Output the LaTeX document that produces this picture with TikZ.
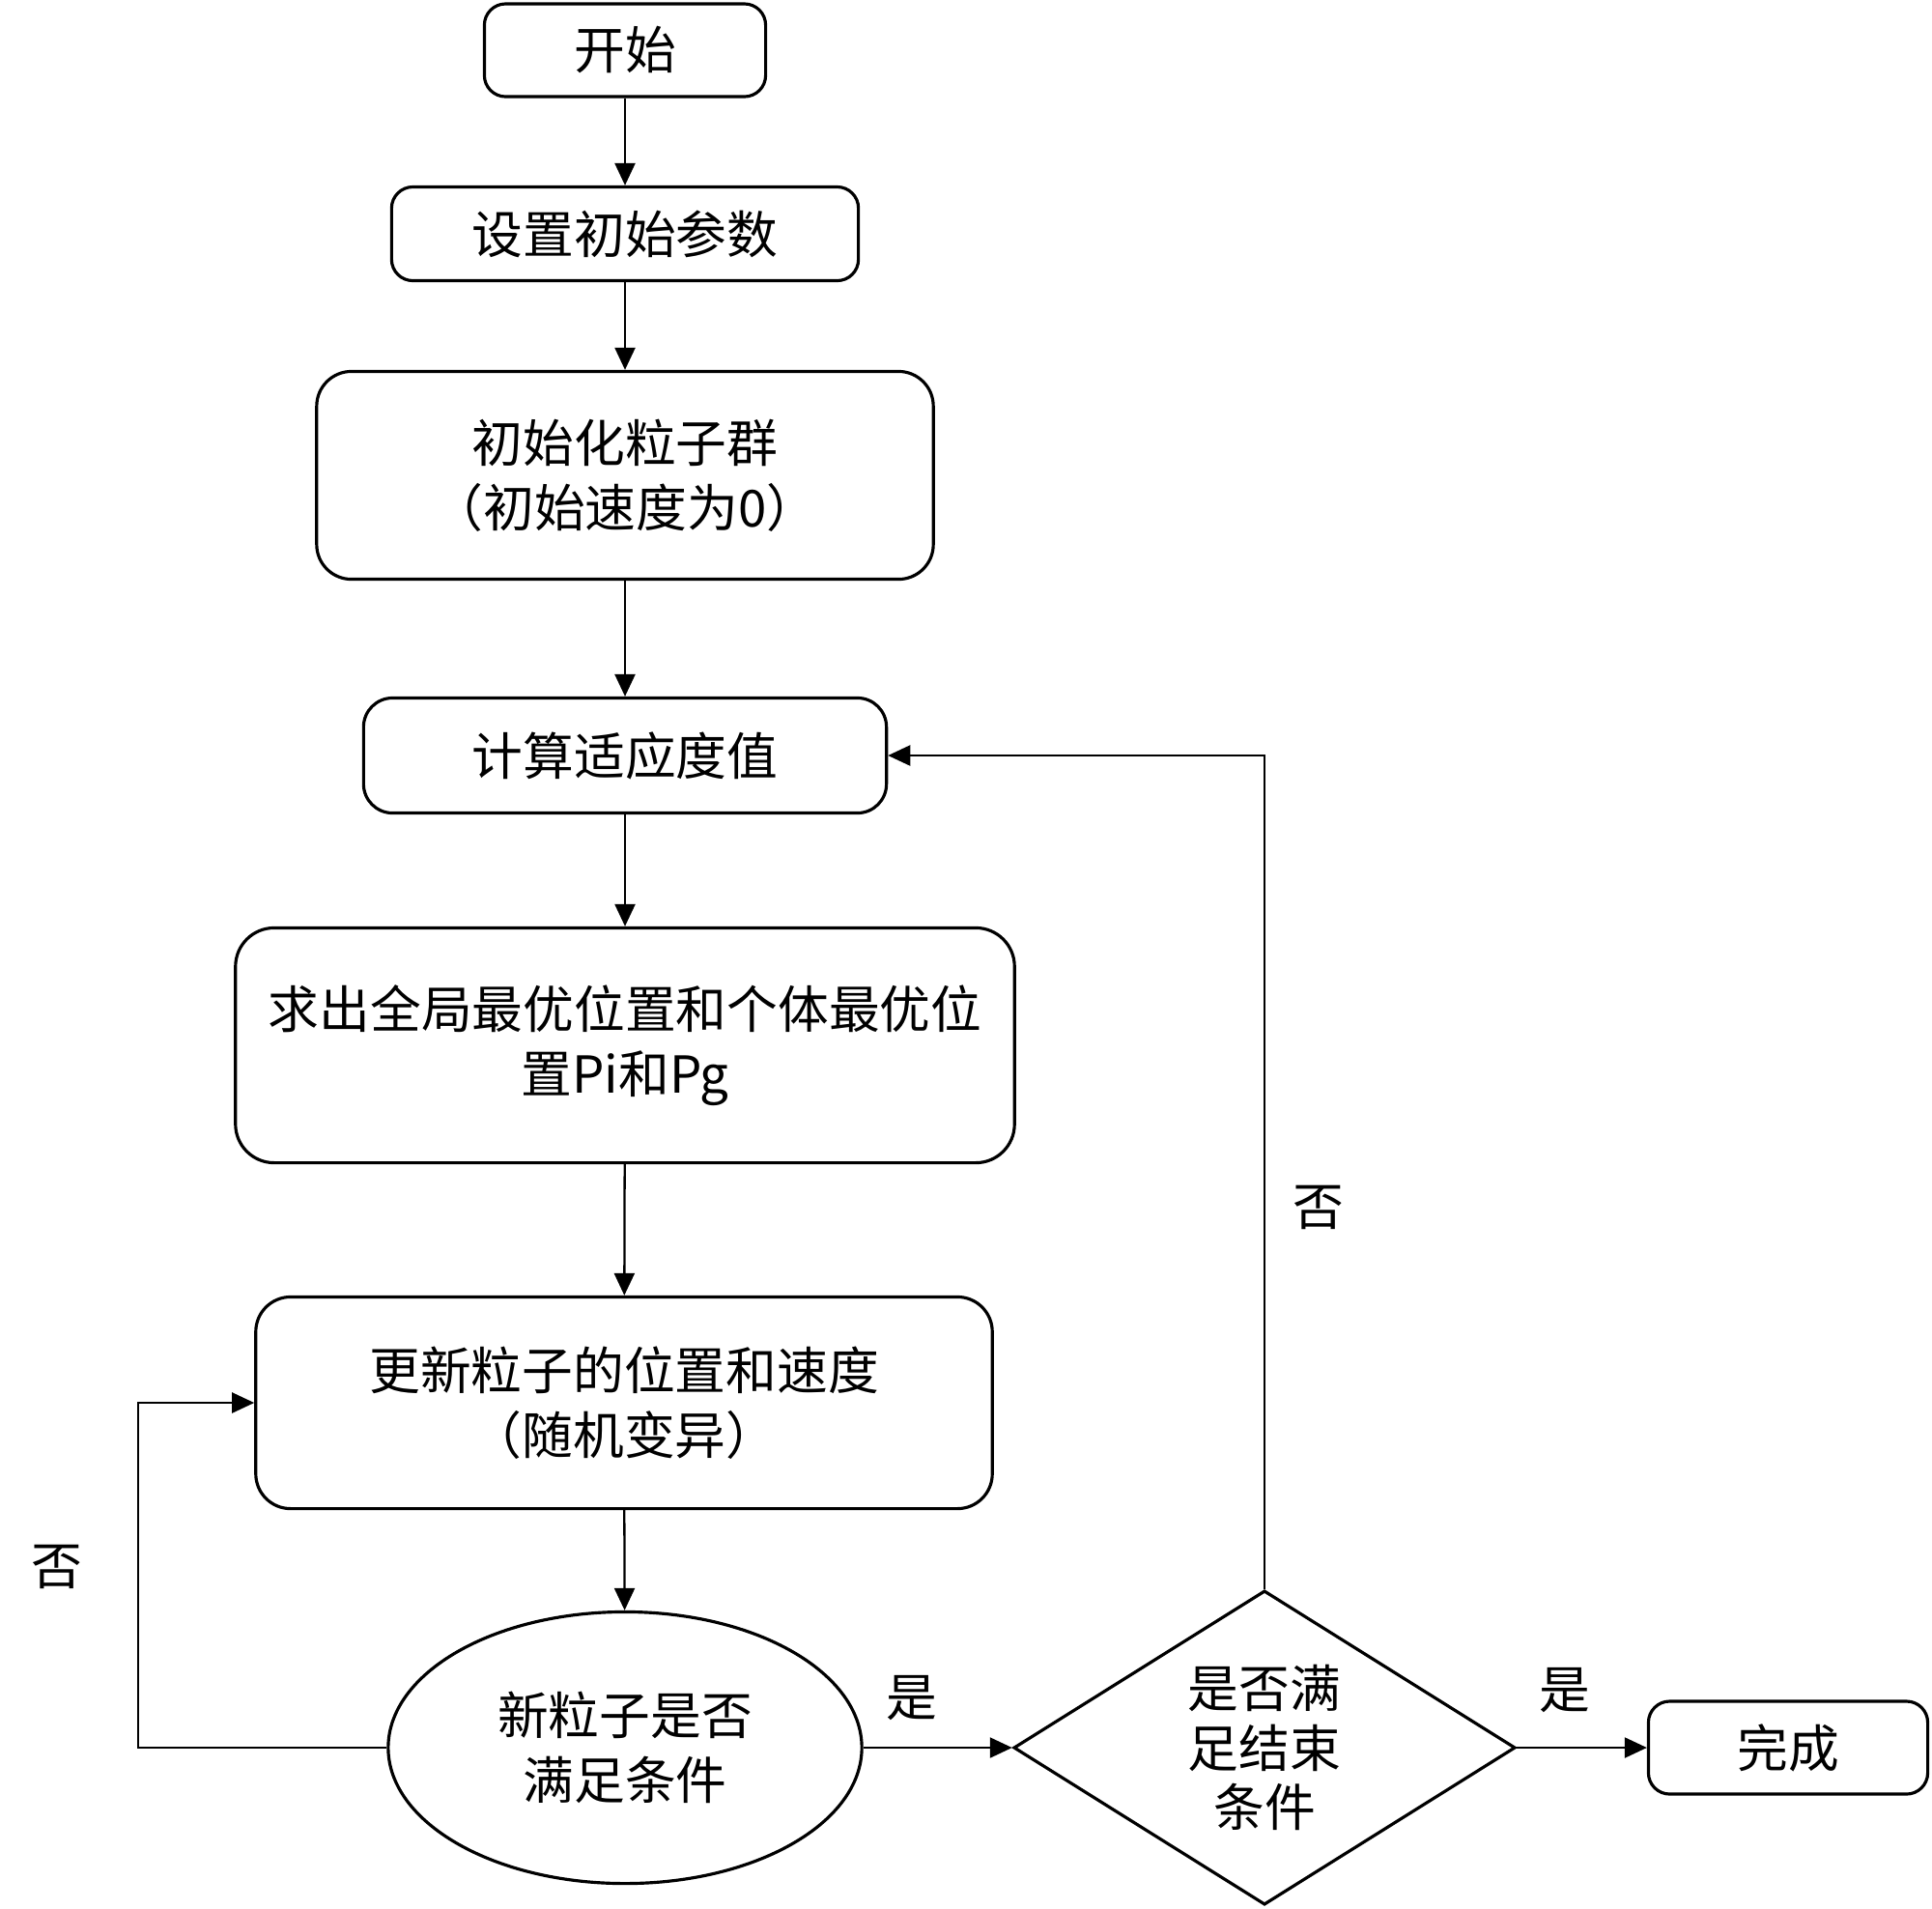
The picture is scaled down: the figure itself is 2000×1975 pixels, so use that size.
\documentclass[tikz,border=0pt]{standalone}
\usepackage{fontspec}
\setmainfont{Noto Sans CJK SC}
\usetikzlibrary{shapes.geometric,arrows.meta}
\tikzset{
  every node/.style={font=\fontsize{15pt}{19pt}\selectfont},
  stepbox/.style={draw, line width=0.9pt, rounded corners=0.22cm, align=center, inner sep=0pt},
  bigbox/.style={stepbox, rounded corners=0.36cm},
  flow/.style={-{Triangle[length=0.23cm,width=0.21cm]}, line width=0.65pt},
}
\begin{document}
\begin{tikzpicture}[x=0.01cm,y=-0.01cm]
    \useasboundingbox (0,0) rectangle (2000,1975);
    \node[stepbox, minimum width=2.91cm, minimum height=0.96cm] (start) at (647,52) {开始};
    \node[stepbox, minimum width=4.83cm, minimum height=0.97cm] (setpar) at (647,242) {设置初始参数};
    \node[bigbox, minimum width=6.38cm, minimum height=2.15cm] (init) at (647,492) {初始化粒子群\\（初始速度为0）};
    \node[bigbox, rounded corners=0.3cm, minimum width=5.41cm, minimum height=1.19cm] (fit) at (647,782) {计算适应度值};
    \node[bigbox, rounded corners=0.4cm, minimum width=8.06cm, minimum height=2.43cm] (best) at (647,1082) {求出全局最优位置和个体最优位\\置Pi和Pg};
    \node[bigbox, minimum width=7.62cm, minimum height=2.19cm] (update) at (646,1452) {更新粒子的位置和速度\\（随机变异）};
    \node[ellipse, draw, line width=0.9pt, inner sep=0pt, align=center, minimum width=4.9cm, minimum height=2.81cm] (check) at (647,1809) {新粒子是否\\满足条件};
    \node[diamond, draw, line width=0.9pt, inner sep=0pt, aspect=1.6, align=center, minimum width=5.19cm, minimum height=3.25cm, font=\fontsize{15pt}{17.5pt}\selectfont] (stop) at (1309,1809) {是否满\\足结束\\条件};
    \node[stepbox, minimum width=2.89cm, minimum height=0.96cm] (done) at (1851,1809) {完成};
    \draw[flow] (start) -- (setpar);
    \draw[flow] (setpar) -- (init);
    \draw[flow] (init) -- (fit);
    \draw[flow] (fit) -- (best);
    \draw[flow] (best) -- (update);
    \draw[flow] (update) -- (check);
    \draw[flow] (check) -- (stop);
    \draw[flow] (stop) -- (done);
    \coordinate (lcorner) at (143,1809);
    \draw[flow] (check.west) -- (lcorner) |- (update.west);
    \draw[flow] (stop.north) |- (fit.east);
    \node (nol) at (59,1622) {否};
    \node (nor) at (1365,1250) {否};
    \node (yesl) at (944,1758) {是};
    \node (yesr) at (1620,1750) {是};
\end{tikzpicture}
\end{document}
